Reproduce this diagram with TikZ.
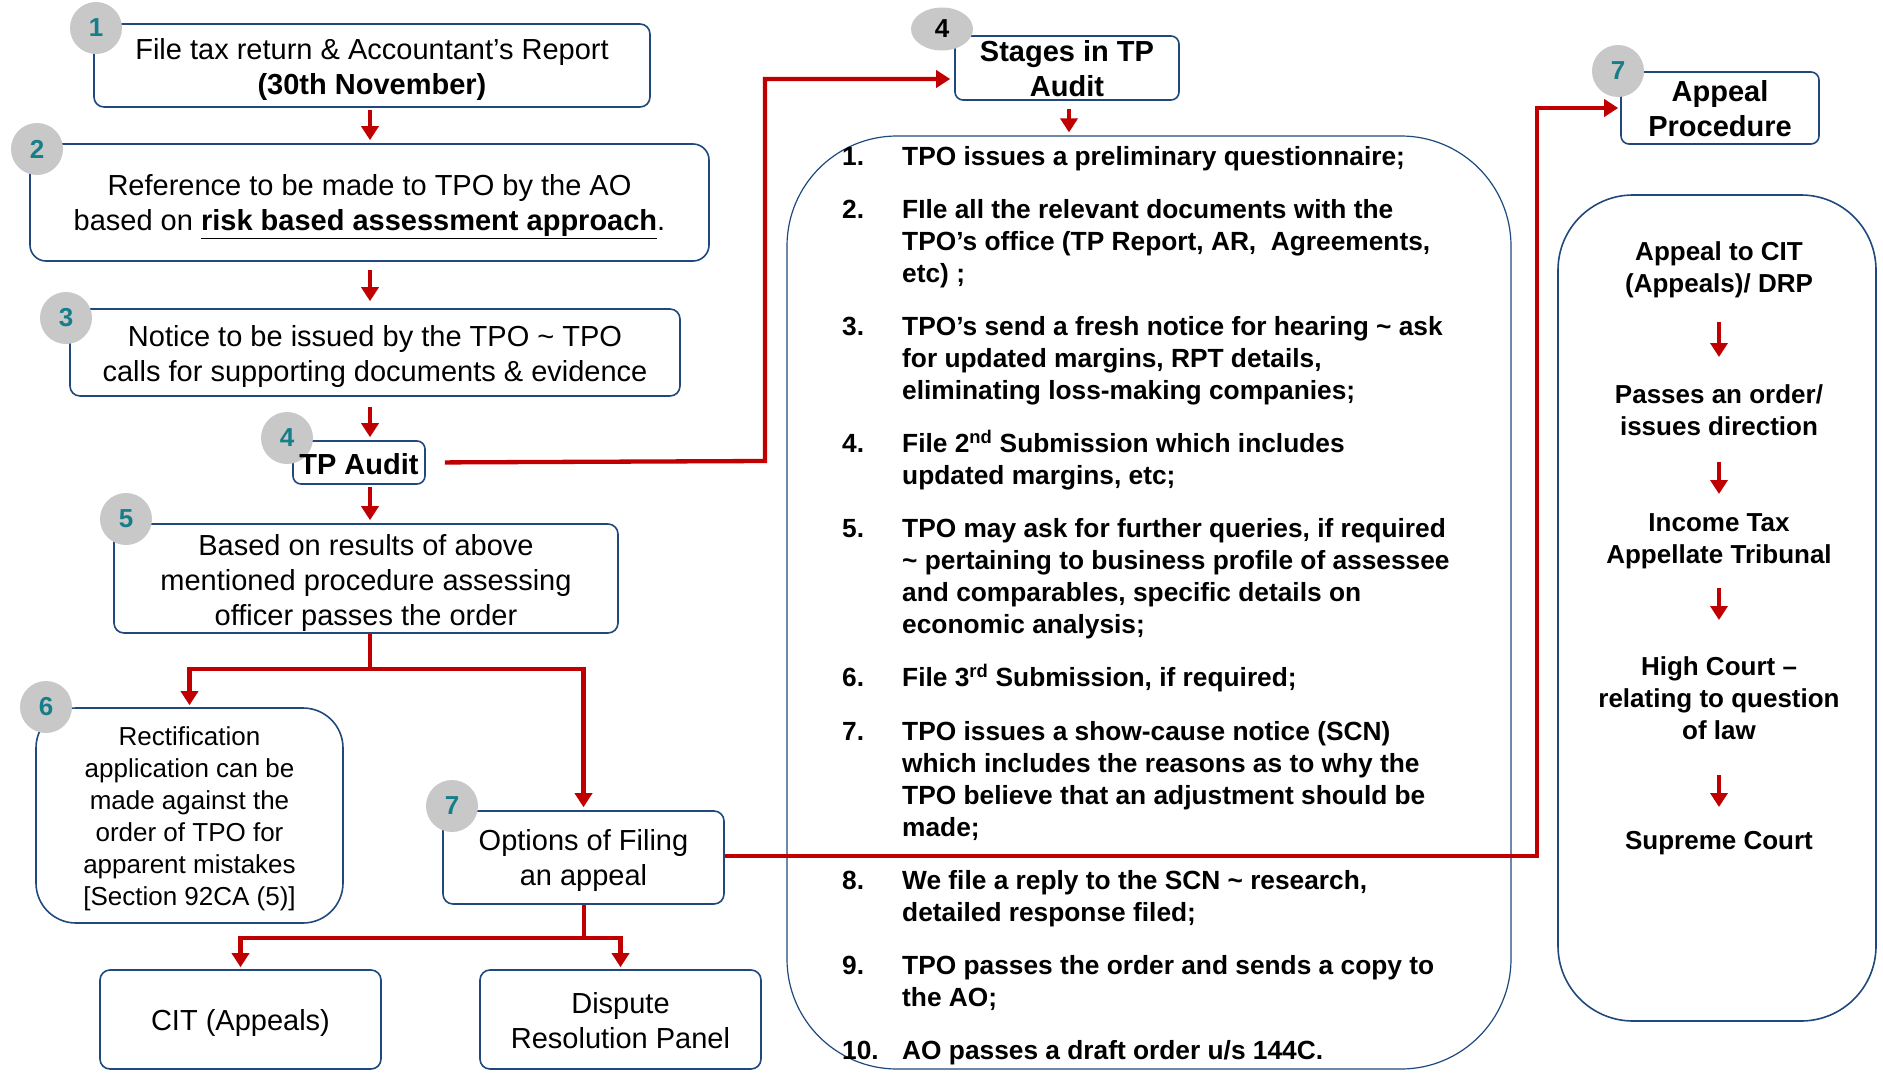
\documentclass[tikz,border=0pt]{standalone}
\usepackage{fontspec}
\setmainfont{Liberation Sans}
\usetikzlibrary{arrows.meta,shapes.geometric}

\definecolor{boxblue}{RGB}{31,73,125}
\definecolor{flowred}{RGB}{192,0,0}
\definecolor{badgegray}{RGB}{200,200,200}
\definecolor{badgeteal}{RGB}{23,126,137}

\tikzset{
  box/.style={draw=boxblue, line width=1.6pt, fill=white, rounded corners=10pt, inner sep=0pt},
  label/.style={align=center, inner sep=0pt},
  boxtext/.style={label, font=\fontsize{29}{35}\selectfont},
  headtext/.style={label, font=\fontsize{29}{35}\selectfont\bfseries},
  sidetext/.style={label, font=\fontsize{26}{32}\selectfont\bfseries},
  flow/.style={draw=flowred, line width=4.3pt},
  arr/.style={flow, -{Triangle[width=17pt,length=14pt]}},
  badge/.style={circle, fill=badgegray, minimum size=52pt, inner sep=0pt,
    font=\fontsize{26}{26}\selectfont\bfseries, text=badgeteal},
}

% one numbered stage: number in a fixed column, following lines hang under the text
\newcommand\stageitem[2]{\hangindent=60pt\hangafter=1\noindent\strut\makebox[60pt][l]{#1}#2\par\vskip21.1pt}

\begin{document}
\begin{tikzpicture}[x=1pt, y=-1pt]
\useasboundingbox (0,0) rectangle (1883,1074);
\coordinate (spine) at (370,0);

% ---------- left column: assessment flow ----------
\node[box, minimum width=556pt, minimum height=83pt] (b1) at (372,65.5) {};
\node[boxtext] (b1t) at ([yshift=-3.5pt]b1.center)
  {File tax return \& Accountant’s Report\\\textbf{(30th November)}};
\node[box, rounded corners=16pt, minimum width=679pt, minimum height=117pt] (b2) at (369.5,202.5) {};
\node[boxtext] (b2t) at ([yshift=-4pt]b2.center)
  {Reference to be made to TPO by the AO\\based on \underline{\textbf{risk based assessment approach}}.};
\node[box, minimum width=610pt, minimum height=87pt] (b3) at (375,352.5) {};
\node[boxtext] (b3t) at ([yshift=-4pt]b3.center)
  {Notice to be issued by the TPO \textasciitilde{} TPO\\calls for supporting documents \& evidence};
\node[box, rounded corners=8pt, minimum width=132pt, minimum height=43pt] (tp) at (359,462.5) {};
\node[box, minimum width=504pt, minimum height=109pt] (b5) at (366,578.5) {};
\node[boxtext] (b5t) at ([yshift=-4pt]b5.center)
  {Based on results of above\\mentioned procedure assessing\\officer passes the order};
\node[box, rounded corners=40pt, minimum width=307pt, minimum height=215pt] (b6) at (189.5,815.5) {};
\node[label, font=\fontsize{26}{32}\selectfont] (b6t) at ([yshift=-3pt]b6.center)
  {Rectification\\application can be\\made against the\\order of TPO for\\apparent mistakes\\{[}Section 92CA (5)]};
\node[box, minimum width=281pt, minimum height=93pt] (opt) at (583.5,857.5) {};
\node[boxtext] (optt) at ([yshift=-3pt]opt.center) {Options of Filing\\an appeal};
\node[box, minimum width=281pt, minimum height=99pt] (cit) at (240.5,1019.5) {};
\node[boxtext] (citt) at ([yshift=-3pt]cit.center) {CIT (Appeals)};
\node[box, minimum width=281pt, minimum height=99pt] (drp) at (620.5,1019.5) {};
\node[boxtext] (drpt) at ([yshift=-1pt]drp.center) {Dispute\\Resolution Panel};

% ---------- middle column: stages in TP audit ----------
\node[box, rounded corners=8pt, minimum width=224pt, minimum height=64pt] (stages) at (1067,68) {};
\node[headtext] (stagest) at ([yshift=-0.5pt]stages.center) {Stages in TP\\Audit};
\node[box, line width=1.2pt, rounded corners=110pt, minimum width=724pt, minimum height=933pt] (list) at (1149,602.5) {};
\node[anchor=base west, inner sep=0pt, font=\fontsize{26.3}{32}\selectfont\bfseries] (steps) at (842,165.4)
  {\begin{minipage}[t]{670pt}
   \stageitem{1.}{TPO issues a preliminary questionnaire;}
   \stageitem{2.}{FIle all the relevant documents with the\\TPO’s office (TP Report, AR,\ \ Agreements,\\etc) ;}
   \stageitem{3.}{TPO’s send a fresh notice for hearing \textasciitilde{} ask\\for updated margins, RPT details,\\eliminating loss-making companies;}
   \stageitem{4.}{File 2\textsuperscript{nd} Submission which includes\\updated margins, etc;}
   \stageitem{5.}{TPO may ask for further queries, if required\\\textasciitilde{} pertaining to business profile of assessee\\and comparables, specific details on\\economic analysis;}
   \stageitem{6.}{File 3\textsuperscript{rd} Submission, if required;}
   \stageitem{7.}{TPO issues a show-cause notice (SCN)\\which includes the reasons as to why the\\TPO believe that an adjustment should be\\made;}
   \stageitem{8.}{We file a reply to the SCN \textasciitilde{} research,\\detailed response filed;}
   \stageitem{9.}{TPO passes the order and sends a copy to\\the AO;}
   \hangindent=60pt\hangafter=1\noindent\strut\makebox[60pt][l]{10.}AO passes a draft order u/s 144C.
   \end{minipage}};

% ---------- right column: appeal procedure ----------
\node[box, rounded corners=8pt, minimum width=198pt, minimum height=72pt] (app) at (1720,108) {};
\node[headtext] (appt) at ([yshift=-1pt]app.center) {Appeal\\Procedure};
\node[box, rounded corners=75pt, minimum width=318pt, minimum height=826pt] (side) at (1717,608) {};
\node[sidetext] (r1) at (1719,270) {Appeal to CIT\\(Appeals)/ DRP};
\node[sidetext] (r2) at (1719,410.5) {Passes an order/\\issues direction};
\node[sidetext] (r3) at (1719,541) {Income Tax\\Appellate Tribunal};
\node[sidetext] (r4) at (1719,698) {High Court \textendash\\relating to question\\of law};
\node[sidetext] (r5) at (1719,843.5) {Supreme Court};

% ---------- connectors ----------
\draw[arr, shorten <=2pt, shorten >=3pt] (b1.south -| spine) -- (b2.north -| spine);
\draw[arr, shorten <=8pt, shorten >=7pt] (b2.south -| spine) -- (b3.north -| spine);
\draw[arr, shorten <=10pt, shorten >=3pt] (b3.south -| spine) -- (tp.north -| spine);
\draw[arr, shorten <=2pt, shorten >=3pt] (tp.south -| spine) -- (b5.north -| spine);

\coordinate (upA) at (765,461);
\draw[arr, shorten <=19pt, shorten >=4pt] (tp.east) -- (upA) |- ([yshift=-11pt]stages.west);

\coordinate (split1) at (370,669);
\draw[flow] (b5.south -| split1) -- (split1);
\draw[arr, shorten >=2pt] (split1) -| (b6.north);
\draw[arr, shorten >=3pt] (split1) -| (opt.north);

\coordinate (split2) at (584,938);
\draw[flow] (opt.south -| split2) -- (split2);
\draw[arr, shorten >=2pt] (split2) -| (cit.north);
\draw[arr, shorten >=2pt] (split2) -| (drp.north);

\coordinate (upB) at (1537,856);
\draw[arr, shorten >=2pt] (opt.east |- upB) -- (upB) |- (app.west);

\draw[arr, shorten <=8pt, shorten >=3pt] (stages.south -| 1069,0) -- (list.north -| 1069,0);

\draw[arr, shorten <=52pt, shorten >=53.5pt] (r1.center) -- (r2.center);
\draw[arr, shorten <=51.5pt, shorten >=47pt] (r2.center) -- (r3.center);
\draw[arr, shorten <=47pt, shorten >=78pt] (r3.center) -- (r4.center);
\draw[arr, shorten <=77pt, shorten >=36.5pt] (r4.center) -- (r5.center);

% ---------- number badges ----------
\node[badge] (n1) at (96,28) {1};
\node[badge] (n2) at (37,149) {2};
\node[badge] (n3) at (66,318) {3};
\node[badge] (n4) at (287,438) {4};
\node[badge] (n5) at (126,519) {5};
\node[badge] (n6) at (46,707) {6};
\node[badge] (n7) at (452,806) {7};
\node[badge, ellipse, minimum width=62pt, minimum height=43pt, text=black] (n4s) at (942,29) {4};
\node[badge] (n7s) at (1618,71) {7};

% the TP Audit title sits over its badge
\node[headtext] (tpt) at ([yshift=-2pt]tp.center) {TP Audit};
\end{tikzpicture}
\end{document}
